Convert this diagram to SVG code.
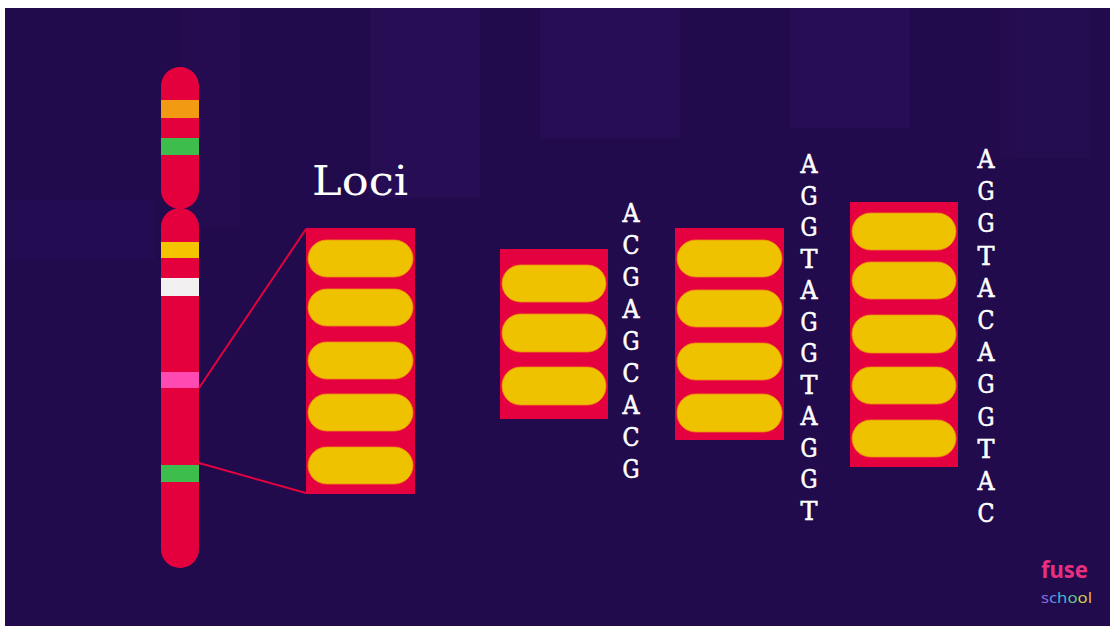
<svg xmlns="http://www.w3.org/2000/svg" width="1110" height="627" viewBox="0 0 1110 627">
  <style>
    .arm { fill: #e4003d; }
    .box { fill: #e5003f; }
    .pill { fill: #efc200; stroke: #f08a10; stroke-width: 0.8; }
    .base { font-family: "DejaVu Serif", "Liberation Serif", serif; font-size: 26px; fill: #ffffff; stroke: #ffffff; stroke-width: 0.6; text-anchor: middle; }
    .title { font-family: "DejaVu Serif", "Liberation Serif", serif; font-size: 41px; fill: #ffffff; }
    .link { stroke: #e5003f; stroke-width: 2; fill: none; }
  </style>

  <!-- page and backdrop -->
  <rect width="1110" height="627" fill="#ffffff"/>
  <rect x="5" y="8" width="1105" height="618" fill="#210b4c"/>
  <g opacity="0.25">
    <rect x="180" y="8" width="60" height="220" fill="#32125f"/>
    <rect x="370" y="8" width="110" height="190" fill="#36126a"/>
    <rect x="540" y="8" width="140" height="130" fill="#3a1370"/>
    <rect x="790" y="8" width="120" height="120" fill="#3b1472"/>
    <rect x="1000" y="8" width="90" height="150" fill="#32125f"/>
    <rect x="5" y="200" width="150" height="60" fill="#2b1060"/>
  </g>

  <!-- chromosome -->
  <g id="chromosome">
    <rect class="arm" x="161" y="67" width="38" height="142" rx="19"/>
    <rect class="arm" x="161" y="208" width="38" height="360" rx="19"/>
    <rect x="161" y="100" width="38" height="18" fill="#f39a13"/>
    <rect x="161" y="138" width="38" height="17" fill="#3dbd4c"/>
    <rect x="161" y="242" width="38" height="16" fill="#f4c400"/>
    <rect x="161" y="278" width="38" height="18" fill="#f2f0f0"/>
    <rect x="161" y="372" width="38" height="16" fill="#ff4ab2"/>
    <rect x="161" y="465" width="38" height="17" fill="#3dbd4c"/>
  </g>

  <!-- zoom lines from the chromosome to the loci box -->
  <g id="connectors">
    <line class="link" x1="199" y1="388" x2="306" y2="229"/>
    <line class="link" x1="199" y1="463" x2="306" y2="493"/>
  </g>

  <!-- loci block -->
  <g id="loci">
    <text class="title" x="312" y="195" textLength="96" lengthAdjust="spacingAndGlyphs">Loci</text>
    <rect class="box" x="306" y="228" width="109" height="266"/>
    <rect class="pill" x="308" y="240" width="105" height="37" rx="18.5"/>
    <rect class="pill" x="308" y="289" width="105" height="37" rx="18.5"/>
    <rect class="pill" x="308" y="342" width="105" height="37" rx="18.5"/>
    <rect class="pill" x="308" y="394" width="105" height="37" rx="18.5"/>
    <rect class="pill" x="308" y="447" width="105" height="37" rx="18.5"/>
  </g>

  <!-- three repeats -->
  <g id="repeat3">
    <rect class="box" x="500" y="249" width="108" height="170"/>
    <rect class="pill" x="502" y="265" width="104" height="37" rx="18.5"/>
    <rect class="pill" x="502" y="314" width="104" height="38" rx="18.5"/>
    <rect class="pill" x="502" y="367" width="104" height="38" rx="18.5"/>
    <g class="base">
      <text x="631" y="222" textLength="17" lengthAdjust="spacingAndGlyphs">A</text>
      <text x="631" y="254" textLength="17" lengthAdjust="spacingAndGlyphs">C</text>
      <text x="631" y="286" textLength="17" lengthAdjust="spacingAndGlyphs">G</text>
      <text x="631" y="318" textLength="17" lengthAdjust="spacingAndGlyphs">A</text>
      <text x="631" y="350" textLength="17" lengthAdjust="spacingAndGlyphs">G</text>
      <text x="631" y="382" textLength="17" lengthAdjust="spacingAndGlyphs">C</text>
      <text x="631" y="414" textLength="17" lengthAdjust="spacingAndGlyphs">A</text>
      <text x="631" y="446" textLength="17" lengthAdjust="spacingAndGlyphs">C</text>
      <text x="631" y="478" textLength="17" lengthAdjust="spacingAndGlyphs">G</text>
    </g>
  </g>

  <!-- four repeats -->
  <g id="repeat4">
    <rect class="box" x="675" y="228" width="109" height="212"/>
    <rect class="pill" x="677" y="240" width="105" height="37" rx="18.5"/>
    <rect class="pill" x="677" y="290" width="105" height="37" rx="18.5"/>
    <rect class="pill" x="677" y="343" width="105" height="37" rx="18.5"/>
    <rect class="pill" x="677" y="394" width="105" height="38" rx="18.5"/>
    <g class="base">
      <text x="809" y="173" textLength="17" lengthAdjust="spacingAndGlyphs">A</text>
      <text x="809" y="204.5" textLength="17" lengthAdjust="spacingAndGlyphs">G</text>
      <text x="809" y="236" textLength="17" lengthAdjust="spacingAndGlyphs">G</text>
      <text x="809" y="267.5" textLength="17" lengthAdjust="spacingAndGlyphs">T</text>
      <text x="809" y="299" textLength="17" lengthAdjust="spacingAndGlyphs">A</text>
      <text x="809" y="330.5" textLength="17" lengthAdjust="spacingAndGlyphs">G</text>
      <text x="809" y="362" textLength="17" lengthAdjust="spacingAndGlyphs">G</text>
      <text x="809" y="393.5" textLength="17" lengthAdjust="spacingAndGlyphs">T</text>
      <text x="809" y="425" textLength="17" lengthAdjust="spacingAndGlyphs">A</text>
      <text x="809" y="456.5" textLength="17" lengthAdjust="spacingAndGlyphs">G</text>
      <text x="809" y="488" textLength="17" lengthAdjust="spacingAndGlyphs">G</text>
      <text x="809" y="519.5" textLength="17" lengthAdjust="spacingAndGlyphs">T</text>
    </g>
  </g>

  <!-- five repeats -->
  <g id="repeat5">
    <rect class="box" x="850" y="202" width="108" height="265"/>
    <rect class="pill" x="852" y="213" width="104" height="37" rx="18.5"/>
    <rect class="pill" x="852" y="262" width="104" height="37" rx="18.5"/>
    <rect class="pill" x="852" y="315" width="104" height="38" rx="18.5"/>
    <rect class="pill" x="852" y="367" width="104" height="37" rx="18.5"/>
    <rect class="pill" x="852" y="420" width="104" height="37" rx="18.5"/>
    <g class="base">
      <text x="986" y="168" textLength="17" lengthAdjust="spacingAndGlyphs">A</text>
      <text x="986" y="200.2" textLength="17" lengthAdjust="spacingAndGlyphs">G</text>
      <text x="986" y="232.4" textLength="17" lengthAdjust="spacingAndGlyphs">G</text>
      <text x="986" y="264.6" textLength="17" lengthAdjust="spacingAndGlyphs">T</text>
      <text x="986" y="296.8" textLength="17" lengthAdjust="spacingAndGlyphs">A</text>
      <text x="986" y="329" textLength="17" lengthAdjust="spacingAndGlyphs">C</text>
      <text x="986" y="361.2" textLength="17" lengthAdjust="spacingAndGlyphs">A</text>
      <text x="986" y="393.4" textLength="17" lengthAdjust="spacingAndGlyphs">G</text>
      <text x="986" y="425.6" textLength="17" lengthAdjust="spacingAndGlyphs">G</text>
      <text x="986" y="457.8" textLength="17" lengthAdjust="spacingAndGlyphs">T</text>
      <text x="986" y="490" textLength="17" lengthAdjust="spacingAndGlyphs">A</text>
      <text x="986" y="522" textLength="17" lengthAdjust="spacingAndGlyphs">C</text>
    </g>
  </g>

  <!-- logo -->
  <g id="logo" font-family="'Noto Sans', 'Open Sans', sans-serif">
    <text x="1041" y="578" font-size="23" font-weight="bold" fill="#e8307f" textLength="47" lengthAdjust="spacingAndGlyphs">fuse</text>
    <text x="1041" y="603" font-size="15" textLength="51" lengthAdjust="spacingAndGlyphs"><tspan fill="#8a6fe0">s</tspan><tspan fill="#5f8fe8">c</tspan><tspan fill="#3fb6d8">h</tspan><tspan fill="#5cc690">o</tspan><tspan fill="#c8d24a">o</tspan><tspan fill="#f0b040">l</tspan></text>
  </g>
</svg>
